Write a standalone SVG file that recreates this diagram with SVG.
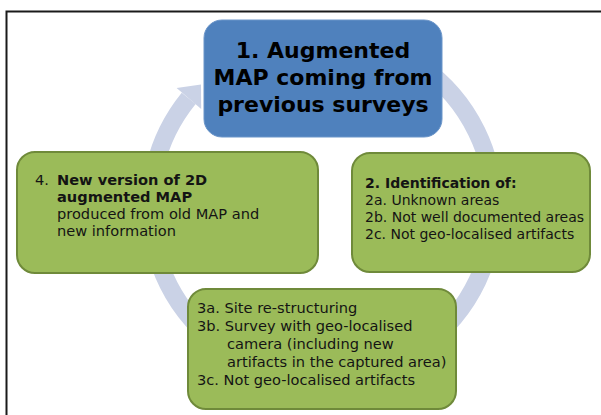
<svg xmlns="http://www.w3.org/2000/svg" width="601" height="415" viewBox="0 0 601 415">
<style>
.g{fill:#9BBB59;stroke:#6f8a3a;stroke-width:2}
.b{fill:#4F81BD;stroke:#6b95c9;stroke-width:1}
.t{font-family:"DejaVu Sans",Verdana,sans-serif;fill:#141414}
.h{font-family:"DejaVu Sans",Verdana,sans-serif;font-weight:bold;font-size:22px;fill:#000;text-anchor:middle}
.bd{font-weight:bold}
</style>
<rect x="0" y="0" width="601" height="415" fill="#fff"/>
<path d="M6.5,415 V11.5 H601" fill="none" stroke="#1a1a1a" stroke-width="2"/>
<g id="connectors">
<path d="M263.2,45.4 A172,172 0 1 1 188.7,98.4" fill="none" stroke="#CAD2E6" stroke-width="18"/>
<polygon points="176.6,87.9 201.0,84.6 201.2,108.9" fill="#CAD2E6"/>
</g>
<g id="node1">
<rect class="b" x="204" y="20" width="238" height="117" rx="18"/>
<text class="h" x="323" y="58">1. Augmented</text>
<text class="h" x="323" y="85">MAP coming from</text>
<text class="h" x="323" y="112">previous surveys</text>
</g>
<g id="node2">
<rect class="g" x="352" y="153" width="238" height="119" rx="18"/>
<text class="t" font-size="14" x="365" y="188"><tspan class="bd">2. Identification of:</tspan></text>
<text class="t" font-size="14" x="365" y="205">2a. Unknown areas</text>
<text class="t" font-size="14" x="365" y="222">2b. Not well documented areas</text>
<text class="t" font-size="14" x="365" y="239">2c. Not geo-localised artifacts</text>
</g>
<g id="node3">
<rect class="g" x="188" y="289" width="268" height="120" rx="18"/>
<text class="t" font-size="14.6" x="197" y="313">3a. Site re-structuring</text>
<text class="t" font-size="14.6" x="197" y="331">3b. Survey with geo-localised</text>
<text class="t" font-size="14.6" x="227" y="349">camera (including new</text>
<text class="t" font-size="14.6" x="227" y="367">artifacts in the captured area)</text>
<text class="t" font-size="14.6" x="197" y="385">3c. Not geo-localised artifacts</text>
</g>
<g id="node4">
<rect class="g" x="17" y="152" width="301" height="121" rx="18"/>
<text class="t" font-size="14.6" x="35" y="185">4.</text>
<text class="t bd" font-size="14.6" x="57" y="185">New version of 2D</text>
<text class="t bd" font-size="14.6" x="57" y="202">augmented MAP</text>
<text class="t" font-size="14.6" x="57" y="219">produced from old MAP and</text>
<text class="t" font-size="14.6" x="57" y="236">new information</text>
</g>
</svg>
